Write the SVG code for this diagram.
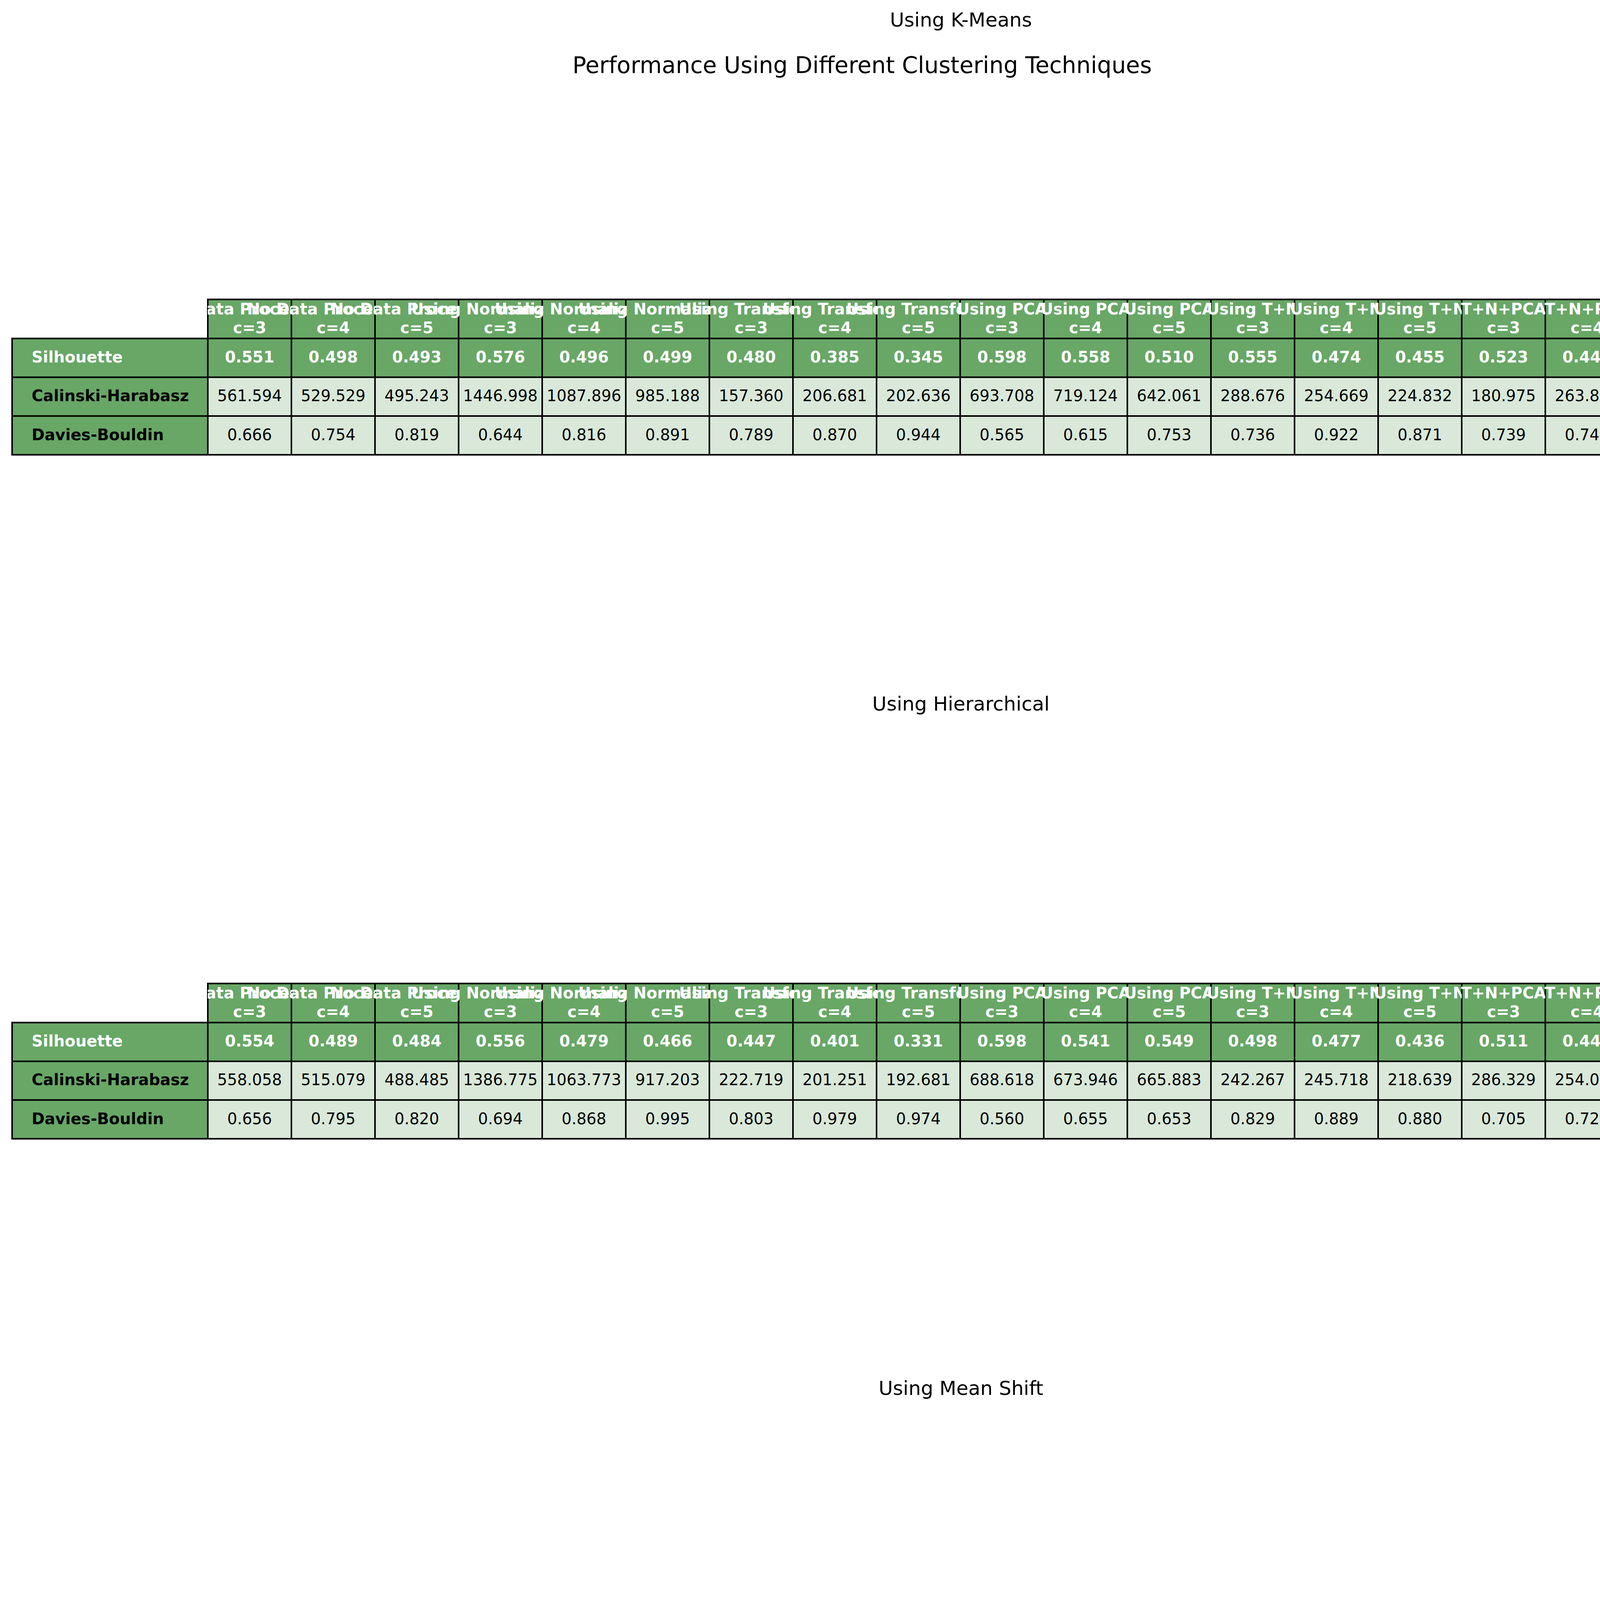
<svg xmlns="http://www.w3.org/2000/svg" xmlns:xlink="http://www.w3.org/1999/xlink" width="4414" height="5257" viewBox="0 0 4414 5257">
<style>
.g{fill:#68A766}
.lt{fill:#D9E8D9}
.grid{fill:none;stroke:#000;stroke-width:4;stroke-linecap:square}
text{font-family:"DejaVu Sans","Liberation Sans",sans-serif}
.ttl{font-size:50px;fill:#000;text-anchor:middle}
.sup{font-size:58.3px;fill:#000;text-anchor:middle}
.hd{font-size:40px;font-weight:bold;fill:#fff;text-anchor:middle}
.sv{font-size:40px;font-weight:bold;fill:#fff;text-anchor:middle}
.v{font-size:40px;fill:#000;text-anchor:middle}
.rw{font-size:40px;font-weight:bold;fill:#fff}
.rb{font-size:40px;font-weight:bold;fill:#000}
</style>
<defs>
<g id="frame">
<rect class="g" x="532" y="-100" width="3852" height="100"/>
<rect class="g" x="31" y="0" width="4353" height="99.2"/>
<rect class="g" x="31" y="99.2" width="501" height="198.4"/>
<rect class="lt" x="532" y="99.2" width="3852" height="198.4"/>
<path class="grid" d="M532,-100H4384M31,0H4384M31,99.2H4384M31,198.4H4384M31,297.6H4384M31,0V297.6M532,-100V297.6M746,-100V297.6M960,-100V297.6M1174,-100V297.6M1388,-100V297.6M1602,-100V297.6M1816,-100V297.6M2030,-100V297.6M2244,-100V297.6M2458,-100V297.6M2672,-100V297.6M2886,-100V297.6M3100,-100V297.6M3314,-100V297.6M3528,-100V297.6M3742,-100V297.6M3956,-100V297.6M4170,-100V297.6M4384,-100V297.6"/>
</g>
<clipPath id="c0"><rect x="532" y="-100" width="214" height="100"/></clipPath>
<clipPath id="c1"><rect x="532" y="-100" width="428" height="100"/></clipPath>
<clipPath id="c2"><rect x="746" y="-100" width="428" height="100"/></clipPath>
<clipPath id="c3"><rect x="960" y="-100" width="428" height="100"/></clipPath>
<clipPath id="c4"><rect x="1174" y="-100" width="428" height="100"/></clipPath>
<clipPath id="c5"><rect x="1388" y="-100" width="428" height="100"/></clipPath>
<clipPath id="c6"><rect x="1602" y="-100" width="428" height="100"/></clipPath>
<clipPath id="c7"><rect x="1816" y="-100" width="428" height="100"/></clipPath>
<clipPath id="c8"><rect x="2030" y="-100" width="428" height="100"/></clipPath>
<clipPath id="c9"><rect x="2244" y="-100" width="428" height="100"/></clipPath>
<clipPath id="c10"><rect x="2458" y="-100" width="428" height="100"/></clipPath>
<clipPath id="c11"><rect x="2672" y="-100" width="428" height="100"/></clipPath>
<clipPath id="c12"><rect x="2886" y="-100" width="428" height="100"/></clipPath>
<clipPath id="c13"><rect x="3100" y="-100" width="428" height="100"/></clipPath>
<clipPath id="c14"><rect x="3314" y="-100" width="428" height="100"/></clipPath>
<clipPath id="c15"><rect x="3528" y="-100" width="428" height="100"/></clipPath>
<clipPath id="c16"><rect x="3742" y="-100" width="428" height="100"/></clipPath>
<clipPath id="c17"><rect x="3956" y="-100" width="428" height="100"/></clipPath>
</defs>
<rect x="0" y="0" width="4414" height="5257" fill="#fff"/>
<text class="ttl" x="2460" y="68.3">Using K-Means</text>
<text class="sup" x="2207" y="187">Performance Using Different Clustering Techniques</text>
<text class="ttl" x="2460" y="1819.3">Using Hierarchical</text>
<text class="ttl" x="2460" y="3570.5">Using Mean Shift</text>

<g id="table-kmeans" transform="translate(0,866.6)">
<use xlink:href="#frame" href="#frame"/>
<g id="kmeans-header">
<text class="hd" clip-path="url(#c0)" x="639" y="-62"><tspan x="639">No Data Processing</tspan><tspan x="639" dy="48">c=3</tspan></text>
<text class="hd" clip-path="url(#c1)" x="853" y="-62"><tspan x="853">No Data Processing</tspan><tspan x="853" dy="48">c=4</tspan></text>
<text class="hd" clip-path="url(#c2)" x="1067" y="-62"><tspan x="1067">No Data Processing</tspan><tspan x="1067" dy="48">c=5</tspan></text>
<text class="hd" clip-path="url(#c3)" x="1281" y="-62"><tspan x="1281">Using Normalization</tspan><tspan x="1281" dy="48">c=3</tspan></text>
<text class="hd" clip-path="url(#c4)" x="1495" y="-62"><tspan x="1495">Using Normalization</tspan><tspan x="1495" dy="48">c=4</tspan></text>
<text class="hd" clip-path="url(#c5)" x="1709" y="-62"><tspan x="1709">Using Normalization</tspan><tspan x="1709" dy="48">c=5</tspan></text>
<text class="hd" clip-path="url(#c6)" x="1923" y="-62"><tspan x="1923">Using Transform</tspan><tspan x="1923" dy="48">c=3</tspan></text>
<text class="hd" clip-path="url(#c7)" x="2137" y="-62"><tspan x="2137">Using Transform</tspan><tspan x="2137" dy="48">c=4</tspan></text>
<text class="hd" clip-path="url(#c8)" x="2351" y="-62"><tspan x="2351">Using Transform</tspan><tspan x="2351" dy="48">c=5</tspan></text>
<text class="hd" clip-path="url(#c9)" x="2565" y="-62"><tspan x="2565">Using PCA</tspan><tspan x="2565" dy="48">c=3</tspan></text>
<text class="hd" clip-path="url(#c10)" x="2779" y="-62"><tspan x="2779">Using PCA</tspan><tspan x="2779" dy="48">c=4</tspan></text>
<text class="hd" clip-path="url(#c11)" x="2993" y="-62"><tspan x="2993">Using PCA</tspan><tspan x="2993" dy="48">c=5</tspan></text>
<text class="hd" clip-path="url(#c12)" x="3207" y="-62"><tspan x="3207">Using T+N</tspan><tspan x="3207" dy="48">c=3</tspan></text>
<text class="hd" clip-path="url(#c13)" x="3421" y="-62"><tspan x="3421">Using T+N</tspan><tspan x="3421" dy="48">c=4</tspan></text>
<text class="hd" clip-path="url(#c14)" x="3635" y="-62"><tspan x="3635">Using T+N</tspan><tspan x="3635" dy="48">c=5</tspan></text>
<text class="hd" clip-path="url(#c15)" x="3849" y="-62"><tspan x="3849">T+N+PCA</tspan><tspan x="3849" dy="48">c=3</tspan></text>
<text class="hd" clip-path="url(#c16)" x="4063" y="-62"><tspan x="4063">T+N+PCA</tspan><tspan x="4063" dy="48">c=4</tspan></text>
<text class="hd" clip-path="url(#c17)" x="4277" y="-62"><tspan x="4277">T+N+PCA</tspan><tspan x="4277" dy="48">c=5</tspan></text>
</g>
<g id="kmeans-silhouette">
<text class="rw" x="81" y="61.6">Silhouette</text>
<text class="sv" x="639" y="61.6">0.551</text><text class="sv" x="853" y="61.6">0.498</text><text class="sv" x="1067" y="61.6">0.493</text>
<text class="sv" x="1281" y="61.6">0.576</text><text class="sv" x="1495" y="61.6">0.496</text><text class="sv" x="1709" y="61.6">0.499</text>
<text class="sv" x="1923" y="61.6">0.480</text><text class="sv" x="2137" y="61.6">0.385</text><text class="sv" x="2351" y="61.6">0.345</text>
<text class="sv" x="2565" y="61.6">0.598</text><text class="sv" x="2779" y="61.6">0.558</text><text class="sv" x="2993" y="61.6">0.510</text>
<text class="sv" x="3207" y="61.6">0.555</text><text class="sv" x="3421" y="61.6">0.474</text><text class="sv" x="3635" y="61.6">0.455</text>
<text class="sv" x="3849" y="61.6">0.523</text><text class="sv" x="4063" y="61.6">0.445</text><text class="sv" x="4277" y="61.6">0.411</text>
</g>
<g id="kmeans-calinski">
<text class="rb" x="81" y="160.8">Calinski-Harabasz</text>
<text class="v" x="639" y="160.8">561.594</text><text class="v" x="853" y="160.8">529.529</text><text class="v" x="1067" y="160.8">495.243</text>
<text class="v" x="1281" y="160.8">1446.998</text><text class="v" x="1495" y="160.8">1087.896</text><text class="v" x="1709" y="160.8">985.188</text>
<text class="v" x="1923" y="160.8">157.360</text><text class="v" x="2137" y="160.8">206.681</text><text class="v" x="2351" y="160.8">202.636</text>
<text class="v" x="2565" y="160.8">693.708</text><text class="v" x="2779" y="160.8">719.124</text><text class="v" x="2993" y="160.8">642.061</text>
<text class="v" x="3207" y="160.8">288.676</text><text class="v" x="3421" y="160.8">254.669</text><text class="v" x="3635" y="160.8">224.832</text>
<text class="v" x="3849" y="160.8">180.975</text><text class="v" x="4063" y="160.8">263.884</text><text class="v" x="4277" y="160.8">278.451</text>
</g>
<g id="kmeans-davies">
<text class="rb" x="81" y="260">Davies-Bouldin</text>
<text class="v" x="639" y="260">0.666</text><text class="v" x="853" y="260">0.754</text><text class="v" x="1067" y="260">0.819</text>
<text class="v" x="1281" y="260">0.644</text><text class="v" x="1495" y="260">0.816</text><text class="v" x="1709" y="260">0.891</text>
<text class="v" x="1923" y="260">0.789</text><text class="v" x="2137" y="260">0.870</text><text class="v" x="2351" y="260">0.944</text>
<text class="v" x="2565" y="260">0.565</text><text class="v" x="2779" y="260">0.615</text><text class="v" x="2993" y="260">0.753</text>
<text class="v" x="3207" y="260">0.736</text><text class="v" x="3421" y="260">0.922</text><text class="v" x="3635" y="260">0.871</text>
<text class="v" x="3849" y="260">0.739</text><text class="v" x="4063" y="260">0.745</text><text class="v" x="4277" y="260">0.780</text>
</g>
</g>

<g id="table-hierarchical" transform="translate(0,2617.7)">
<use xlink:href="#frame" href="#frame"/>
<g id="hier-header">
<text class="hd" clip-path="url(#c0)" x="639" y="-62"><tspan x="639">No Data Processing</tspan><tspan x="639" dy="48">c=3</tspan></text>
<text class="hd" clip-path="url(#c1)" x="853" y="-62"><tspan x="853">No Data Processing</tspan><tspan x="853" dy="48">c=4</tspan></text>
<text class="hd" clip-path="url(#c2)" x="1067" y="-62"><tspan x="1067">No Data Processing</tspan><tspan x="1067" dy="48">c=5</tspan></text>
<text class="hd" clip-path="url(#c3)" x="1281" y="-62"><tspan x="1281">Using Normalization</tspan><tspan x="1281" dy="48">c=3</tspan></text>
<text class="hd" clip-path="url(#c4)" x="1495" y="-62"><tspan x="1495">Using Normalization</tspan><tspan x="1495" dy="48">c=4</tspan></text>
<text class="hd" clip-path="url(#c5)" x="1709" y="-62"><tspan x="1709">Using Normalization</tspan><tspan x="1709" dy="48">c=5</tspan></text>
<text class="hd" clip-path="url(#c6)" x="1923" y="-62"><tspan x="1923">Using Transform</tspan><tspan x="1923" dy="48">c=3</tspan></text>
<text class="hd" clip-path="url(#c7)" x="2137" y="-62"><tspan x="2137">Using Transform</tspan><tspan x="2137" dy="48">c=4</tspan></text>
<text class="hd" clip-path="url(#c8)" x="2351" y="-62"><tspan x="2351">Using Transform</tspan><tspan x="2351" dy="48">c=5</tspan></text>
<text class="hd" clip-path="url(#c9)" x="2565" y="-62"><tspan x="2565">Using PCA</tspan><tspan x="2565" dy="48">c=3</tspan></text>
<text class="hd" clip-path="url(#c10)" x="2779" y="-62"><tspan x="2779">Using PCA</tspan><tspan x="2779" dy="48">c=4</tspan></text>
<text class="hd" clip-path="url(#c11)" x="2993" y="-62"><tspan x="2993">Using PCA</tspan><tspan x="2993" dy="48">c=5</tspan></text>
<text class="hd" clip-path="url(#c12)" x="3207" y="-62"><tspan x="3207">Using T+N</tspan><tspan x="3207" dy="48">c=3</tspan></text>
<text class="hd" clip-path="url(#c13)" x="3421" y="-62"><tspan x="3421">Using T+N</tspan><tspan x="3421" dy="48">c=4</tspan></text>
<text class="hd" clip-path="url(#c14)" x="3635" y="-62"><tspan x="3635">Using T+N</tspan><tspan x="3635" dy="48">c=5</tspan></text>
<text class="hd" clip-path="url(#c15)" x="3849" y="-62"><tspan x="3849">T+N+PCA</tspan><tspan x="3849" dy="48">c=3</tspan></text>
<text class="hd" clip-path="url(#c16)" x="4063" y="-62"><tspan x="4063">T+N+PCA</tspan><tspan x="4063" dy="48">c=4</tspan></text>
<text class="hd" clip-path="url(#c17)" x="4277" y="-62"><tspan x="4277">T+N+PCA</tspan><tspan x="4277" dy="48">c=5</tspan></text>
</g>
<g id="hier-silhouette">
<text class="rw" x="81" y="61.6">Silhouette</text>
<text class="sv" x="639" y="61.6">0.554</text><text class="sv" x="853" y="61.6">0.489</text><text class="sv" x="1067" y="61.6">0.484</text>
<text class="sv" x="1281" y="61.6">0.556</text><text class="sv" x="1495" y="61.6">0.479</text><text class="sv" x="1709" y="61.6">0.466</text>
<text class="sv" x="1923" y="61.6">0.447</text><text class="sv" x="2137" y="61.6">0.401</text><text class="sv" x="2351" y="61.6">0.331</text>
<text class="sv" x="2565" y="61.6">0.598</text><text class="sv" x="2779" y="61.6">0.541</text><text class="sv" x="2993" y="61.6">0.549</text>
<text class="sv" x="3207" y="61.6">0.498</text><text class="sv" x="3421" y="61.6">0.477</text><text class="sv" x="3635" y="61.6">0.436</text>
<text class="sv" x="3849" y="61.6">0.511</text><text class="sv" x="4063" y="61.6">0.449</text><text class="sv" x="4277" y="61.6">0.404</text>
</g>
<g id="hier-calinski">
<text class="rb" x="81" y="160.8">Calinski-Harabasz</text>
<text class="v" x="639" y="160.8">558.058</text><text class="v" x="853" y="160.8">515.079</text><text class="v" x="1067" y="160.8">488.485</text>
<text class="v" x="1281" y="160.8">1386.775</text><text class="v" x="1495" y="160.8">1063.773</text><text class="v" x="1709" y="160.8">917.203</text>
<text class="v" x="1923" y="160.8">222.719</text><text class="v" x="2137" y="160.8">201.251</text><text class="v" x="2351" y="160.8">192.681</text>
<text class="v" x="2565" y="160.8">688.618</text><text class="v" x="2779" y="160.8">673.946</text><text class="v" x="2993" y="160.8">665.883</text>
<text class="v" x="3207" y="160.8">242.267</text><text class="v" x="3421" y="160.8">245.718</text><text class="v" x="3635" y="160.8">218.639</text>
<text class="v" x="3849" y="160.8">286.329</text><text class="v" x="4063" y="160.8">254.090</text><text class="v" x="4277" y="160.8">254.996</text>
</g>
<g id="hier-davies">
<text class="rb" x="81" y="260">Davies-Bouldin</text>
<text class="v" x="639" y="260">0.656</text><text class="v" x="853" y="260">0.795</text><text class="v" x="1067" y="260">0.820</text>
<text class="v" x="1281" y="260">0.694</text><text class="v" x="1495" y="260">0.868</text><text class="v" x="1709" y="260">0.995</text>
<text class="v" x="1923" y="260">0.803</text><text class="v" x="2137" y="260">0.979</text><text class="v" x="2351" y="260">0.974</text>
<text class="v" x="2565" y="260">0.560</text><text class="v" x="2779" y="260">0.655</text><text class="v" x="2993" y="260">0.653</text>
<text class="v" x="3207" y="260">0.829</text><text class="v" x="3421" y="260">0.889</text><text class="v" x="3635" y="260">0.880</text>
<text class="v" x="3849" y="260">0.705</text><text class="v" x="4063" y="260">0.723</text><text class="v" x="4277" y="260">0.791</text>
</g>
</g>

<g id="table-meanshift" transform="translate(0,4368.9)">
<use xlink:href="#frame" href="#frame"/>
<g id="ms-header">
<text class="hd" clip-path="url(#c0)" x="639" y="-62"><tspan x="639">No Data Processing</tspan><tspan x="639" dy="48">c=3</tspan></text>
<text class="hd" clip-path="url(#c1)" x="853" y="-62"><tspan x="853">No Data Processing</tspan><tspan x="853" dy="48">c=4</tspan></text>
<text class="hd" clip-path="url(#c2)" x="1067" y="-62"><tspan x="1067">No Data Processing</tspan><tspan x="1067" dy="48">c=5</tspan></text>
<text class="hd" clip-path="url(#c3)" x="1281" y="-62"><tspan x="1281">Using Normalization</tspan><tspan x="1281" dy="48">c=3</tspan></text>
<text class="hd" clip-path="url(#c4)" x="1495" y="-62"><tspan x="1495">Using Normalization</tspan><tspan x="1495" dy="48">c=4</tspan></text>
<text class="hd" clip-path="url(#c5)" x="1709" y="-62"><tspan x="1709">Using Normalization</tspan><tspan x="1709" dy="48">c=5</tspan></text>
<text class="hd" clip-path="url(#c6)" x="1923" y="-62"><tspan x="1923">Using Transform</tspan><tspan x="1923" dy="48">c=3</tspan></text>
<text class="hd" clip-path="url(#c7)" x="2137" y="-62"><tspan x="2137">Using Transform</tspan><tspan x="2137" dy="48">c=4</tspan></text>
<text class="hd" clip-path="url(#c8)" x="2351" y="-62"><tspan x="2351">Using Transform</tspan><tspan x="2351" dy="48">c=5</tspan></text>
<text class="hd" clip-path="url(#c9)" x="2565" y="-62"><tspan x="2565">Using PCA</tspan><tspan x="2565" dy="48">c=3</tspan></text>
<text class="hd" clip-path="url(#c10)" x="2779" y="-62"><tspan x="2779">Using PCA</tspan><tspan x="2779" dy="48">c=4</tspan></text>
<text class="hd" clip-path="url(#c11)" x="2993" y="-62"><tspan x="2993">Using PCA</tspan><tspan x="2993" dy="48">c=5</tspan></text>
<text class="hd" clip-path="url(#c12)" x="3207" y="-62"><tspan x="3207">Using T+N</tspan><tspan x="3207" dy="48">c=3</tspan></text>
<text class="hd" clip-path="url(#c13)" x="3421" y="-62"><tspan x="3421">Using T+N</tspan><tspan x="3421" dy="48">c=4</tspan></text>
<text class="hd" clip-path="url(#c14)" x="3635" y="-62"><tspan x="3635">Using T+N</tspan><tspan x="3635" dy="48">c=5</tspan></text>
<text class="hd" clip-path="url(#c15)" x="3849" y="-62"><tspan x="3849">T+N+PCA</tspan><tspan x="3849" dy="48">c=3</tspan></text>
<text class="hd" clip-path="url(#c16)" x="4063" y="-62"><tspan x="4063">T+N+PCA</tspan><tspan x="4063" dy="48">c=4</tspan></text>
<text class="hd" clip-path="url(#c17)" x="4277" y="-62"><tspan x="4277">T+N+PCA</tspan><tspan x="4277" dy="48">c=5</tspan></text>
</g>
<g id="ms-silhouette">
<text class="rw" x="81" y="61.6">Silhouette</text>
<text class="sv" x="639" y="61.6">nan</text><text class="sv" x="853" y="61.6">nan</text><text class="sv" x="1067" y="61.6">nan</text>
<text class="sv" x="1281" y="61.6">nan</text><text class="sv" x="1495" y="61.6">nan</text><text class="sv" x="1709" y="61.6">nan</text>
<text class="sv" x="1923" y="61.6">nan</text><text class="sv" x="2137" y="61.6">nan</text><text class="sv" x="2351" y="61.6">nan</text>
<text class="sv" x="2565" y="61.6">nan</text><text class="sv" x="2779" y="61.6">nan</text><text class="sv" x="2993" y="61.6">nan</text>
<text class="sv" x="3207" y="61.6">nan</text><text class="sv" x="3421" y="61.6">nan</text><text class="sv" x="3635" y="61.6">nan</text>
<text class="sv" x="3849" y="61.6">nan</text><text class="sv" x="4063" y="61.6">nan</text><text class="sv" x="4277" y="61.6">nan</text>
</g>
<g id="ms-calinski">
<text class="rb" x="81" y="160.8">Calinski-Harabasz</text>
<text class="v" x="639" y="160.8">nan</text><text class="v" x="853" y="160.8">nan</text><text class="v" x="1067" y="160.8">nan</text>
<text class="v" x="1281" y="160.8">nan</text><text class="v" x="1495" y="160.8">nan</text><text class="v" x="1709" y="160.8">nan</text>
<text class="v" x="1923" y="160.8">nan</text><text class="v" x="2137" y="160.8">nan</text><text class="v" x="2351" y="160.8">nan</text>
<text class="v" x="2565" y="160.8">nan</text><text class="v" x="2779" y="160.8">nan</text><text class="v" x="2993" y="160.8">nan</text>
<text class="v" x="3207" y="160.8">nan</text><text class="v" x="3421" y="160.8">nan</text><text class="v" x="3635" y="160.8">nan</text>
<text class="v" x="3849" y="160.8">nan</text><text class="v" x="4063" y="160.8">nan</text><text class="v" x="4277" y="160.8">nan</text>
</g>
<g id="ms-davies">
<text class="rb" x="81" y="260">Davies-Bouldin</text>
<text class="v" x="639" y="260">nan</text><text class="v" x="853" y="260">nan</text><text class="v" x="1067" y="260">nan</text>
<text class="v" x="1281" y="260">nan</text><text class="v" x="1495" y="260">nan</text><text class="v" x="1709" y="260">nan</text>
<text class="v" x="1923" y="260">nan</text><text class="v" x="2137" y="260">nan</text><text class="v" x="2351" y="260">nan</text>
<text class="v" x="2565" y="260">nan</text><text class="v" x="2779" y="260">nan</text><text class="v" x="2993" y="260">nan</text>
<text class="v" x="3207" y="260">nan</text><text class="v" x="3421" y="260">nan</text><text class="v" x="3635" y="260">nan</text>
<text class="v" x="3849" y="260">nan</text><text class="v" x="4063" y="260">nan</text><text class="v" x="4277" y="260">nan</text>
</g>
</g>
</svg>
